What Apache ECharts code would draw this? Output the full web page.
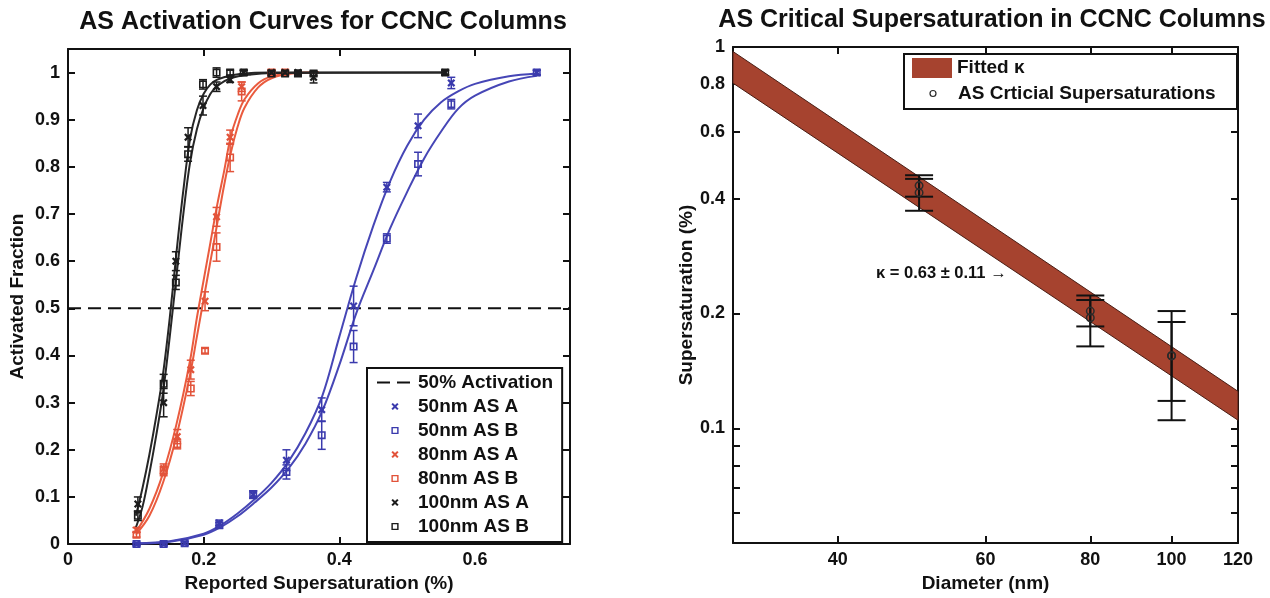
<!DOCTYPE html>
<html><head><meta charset="utf-8">
<script src="https://cdn.jsdelivr.net/npm/echarts@6/dist/echarts.min.js"></script>
<style>html,body{margin:0;padding:0;background:#fff}#c{width:1270px;height:598px}</style>
</head><body><div id="c"></div>
<script>
// ================= LEFT CHART DATA =================
const ssTicks = [0, 0.2, 0.4, 0.6];
const ssTopTicks = [0.2, 0.4, 0.6];
const afTicks = [0, 0.1, 0.2, 0.3, 0.4, 0.5, 0.6, 0.7, 0.8, 0.9, 1];
const ssRange = [0, 0.74];
const afRange = [0, 1.05];
const halfActivation = 0.5;

const x50 = [0.101, 0.141, 0.172, 0.223, 0.273, 0.322, 0.374, 0.421, 0.47, 0.516, 0.565, 0.691];
const af50A = [0.0, 0.0, 0.002, 0.045, 0.105, 0.178, 0.285, 0.505, 0.757, 0.887, 0.978, 1.0];
const er50A = [0.003, 0.003, 0.003, 0.006, 0.008, 0.022, 0.025, 0.042, 0.01, 0.025, 0.012, 0.005];
const af50B = [0.0, 0.0, 0.002, 0.04, 0.105, 0.153, 0.231, 0.419, 0.648, 0.806, 0.933, 1.0];
const er50B = [0.003, 0.003, 0.003, 0.006, 0.008, 0.015, 0.03, 0.034, 0.01, 0.025, 0.01, 0.005];

const x80 = [0.101, 0.141, 0.161, 0.181, 0.202, 0.219, 0.239, 0.256, 0.3, 0.32];
const af80A = [0.03, 0.16, 0.228, 0.37, 0.515, 0.694, 0.863, 0.97, 1.0, 1.0];
const er80A = [0.005, 0.01, 0.015, 0.02, 0.02, 0.02, 0.015, 0.01, 0.005, 0.005];
const af80B = [0.02, 0.155, 0.212, 0.33, 0.41, 0.63, 0.82, 0.96, 1.0, 1.0];
const er80B = [0.005, 0.01, 0.01, 0.015, 0.005, 0.03, 0.03, 0.02, 0.005, 0.005];

const x100 = [0.103, 0.141, 0.159, 0.177, 0.199, 0.219, 0.239, 0.259, 0.3, 0.32, 0.339, 0.362, 0.556];
const af100A = [0.085, 0.30, 0.60, 0.863, 0.93, 0.97, 0.985, 1.0, 1.0, 1.0, 1.0, 0.99, 1.0];
const er100A = [0.015, 0.03, 0.02, 0.02, 0.02, 0.01, 0.006, 0.005, 0.005, 0.005, 0.005, 0.012, 0.005];
const af100B = [0.06, 0.34, 0.555, 0.827, 0.975, 1.0, 1.0, 1.0, 0.998, 0.998, 0.998, 0.998, 1.0];
const er100B = [0.01, 0.02, 0.015, 0.015, 0.01, 0.01, 0.005, 0.005, 0.005, 0.005, 0.005, 0.005, 0.005];

// fitted curves
const fit50X = [0.10, 0.15, 0.20, 0.225, 0.25, 0.275, 0.30, 0.325, 0.35, 0.375, 0.40, 0.425, 0.45, 0.475, 0.50, 0.525, 0.55, 0.575, 0.60, 0.65, 0.691];
const fit50A = [0.002, 0.006, 0.022, 0.04, 0.065, 0.095, 0.13, 0.175, 0.235, 0.315, 0.44, 0.565, 0.675, 0.77, 0.845, 0.9, 0.937, 0.96, 0.976, 0.992, 0.998];
const fit50B = [0.001, 0.005, 0.02, 0.036, 0.059, 0.088, 0.12, 0.16, 0.213, 0.283, 0.38, 0.49, 0.58, 0.67, 0.747, 0.818, 0.875, 0.923, 0.951, 0.981, 0.993];

const fit80X = [0.10, 0.12, 0.14, 0.16, 0.18, 0.19, 0.20, 0.21, 0.22, 0.23, 0.24, 0.25, 0.26, 0.28, 0.30, 0.33, 0.37];
const fit80A = [0.025, 0.075, 0.15, 0.255, 0.39, 0.48, 0.56, 0.64, 0.72, 0.79, 0.865, 0.91, 0.943, 0.977, 0.992, 0.999, 1.0];
const fit80B = [0.02, 0.06, 0.13, 0.23, 0.36, 0.44, 0.52, 0.60, 0.68, 0.76, 0.83, 0.885, 0.925, 0.968, 0.988, 0.998, 1.0];

const fit100X = [0.10, 0.11, 0.12, 0.13, 0.14, 0.15, 0.16, 0.17, 0.18, 0.19, 0.20, 0.21, 0.22, 0.24, 0.27, 0.30, 0.556];
const fit100A = [0.06, 0.12, 0.19, 0.27, 0.36, 0.48, 0.62, 0.75, 0.86, 0.92, 0.955, 0.975, 0.985, 0.994, 0.999, 1.0, 1.0];
const fit100B = [0.035, 0.08, 0.15, 0.23, 0.32, 0.44, 0.57, 0.70, 0.81, 0.88, 0.925, 0.955, 0.972, 0.988, 0.996, 0.999, 1.0];

// ================= RIGHT CHART DATA =================
const diamRange = [30, 120];
const diamLabelTicks = [40, 60, 80, 100, 120];
const diamTopTicks = [40, 60, 80, 100];
const ssRangeR = [0.05, 1];
const ssLabelTicks = [0.1, 0.2, 0.4, 0.6, 0.8, 1];
const ssTickMarks = [0.06, 0.07, 0.08, 0.09, 0.1, 0.2, 0.4, 0.6, 0.8, 1];

const bandD = [30, 120];
const bandHi = [0.973, 0.125];
const bandLo = [0.804, 0.105];

const diam = [50, 80, 100];
const scA = [0.433, 0.203, 0.155];
const scALo = [0.405, 0.185, 0.118];
const scAHi = [0.461, 0.223, 0.19];
const scB = [0.415, 0.195, 0.155];
const scBLo = [0.372, 0.164, 0.105];
const scBHi = [0.451, 0.217, 0.203];

// ================= STYLE =================
const FONT = '"Liberation Sans", Arial, Helvetica, sans-serif';
const INK = '#111';
const BLUE = '#3a3aad', BLUE_L = '#4646b6';
const RED = '#e2533a', RED_L = '#ea5b3e';
const BLACK = '#1c1c1c', BLACK_L = '#262626';
const BAND = '#a6432f';
const CROSS = 'path://M0,2L2,0L5,3L8,0L10,2L7,5L10,8L8,10L5,7L2,10L0,8L3,5Z';
const SQUARE = 'path://M0,0H10V10H0Z M2,2V8H8V2Z';
const RING = 'path://M5,0A5,5,0,1,1,5,10A5,5,0,1,1,5,0Z M5,1.7A3.3,3.3,0,1,0,5,8.3A3.3,3.3,0,1,0,5,1.7Z';
const lg = v => Math.log10(v);

function pairs(xs, ys) { return xs.map((x, i) => [x, ys[i]]); }

function errSeries(xs, lo, hi, color, xi, yi, cap, lw) {
  return {
    type: 'custom', xAxisIndex: xi, yAxisIndex: yi, silent: true, z: 3,
    data: xs.map((x, i) => [x, lo[i], hi[i]]),
    encode: { x: 0, y: [1, 2] },
    renderItem(params, api) {
      const a = api.coord([api.value(0), api.value(1)]);
      const b = api.coord([api.value(0), api.value(2)]);
      const h = cap / 2;
      const st = { stroke: color, lineWidth: lw };
      return { type: 'group', children: [
        { type: 'line', shape: { x1: a[0], y1: a[1], x2: b[0], y2: b[1] }, style: st },
        { type: 'line', shape: { x1: a[0] - h, y1: a[1], x2: a[0] + h, y2: a[1] }, style: st },
        { type: 'line', shape: { x1: b[0] - h, y1: b[1], x2: b[0] + h, y2: b[1] }, style: st }
      ] };
    }
  };
}
function leftErr(xs, ys, es, color) {
  return errSeries(xs, ys.map((y, i) => y - es[i]), ys.map((y, i) => y + es[i]), color, 0, 0, 8, 1.5);
}
function markers(name, data, color, sym, size, xi, yi) {
  return {
    name, type: 'line', xAxisIndex: xi, yAxisIndex: yi, data,
    symbol: sym, symbolSize: size, showSymbol: true, showAllSymbol: true,
    lineStyle: { opacity: 0 }, itemStyle: { color }, z: 4, silent: true
  };
}
function curve(xs, ys, color) {
  return {
    type: 'line', xAxisIndex: 0, yAxisIndex: 0, data: pairs(xs, ys),
    smooth: 0.35, symbol: 'none', silent: true, z: 2,
    lineStyle: { color, width: 2 }
  };
}

const labelStyle = { color: INK, fontWeight: 'bold', fontSize: 18, fontFamily: FONT };
const nameStyle = { color: INK, fontWeight: 'bold', fontSize: 19, fontFamily: FONT };
const lineAx = { show: true, onZero: false, lineStyle: { color: INK, width: 2 } };
function tick(vals) { return { show: true, inside: true, length: 7, lineStyle: { color: INK, width: 2 }, customValues: vals }; }

const chart = echarts.init(document.getElementById('c'));
chart.setOption({
  animation: false,
  backgroundColor: '#fff',
  title: [
    { text: 'AS Activation Curves for CCNC Columns', left: 318, top: 5, textAlign: 'center',
      textStyle: { color: INK, fontWeight: 'bold', fontSize: 25, fontFamily: FONT } },
    { text: 'AS Critical Supersaturation in CCNC Columns', left: 987, top: 3, textAlign: 'center',
      textStyle: { color: INK, fontWeight: 'bold', fontSize: 25, fontFamily: FONT } }
  ],
  grid: [
    { left: 68, right: 700, top: 49, bottom: 50 },
    { left: 733, right: 32, top: 47, bottom: 51 }
  ],
  xAxis: [
    { gridIndex: 0, type: 'value', min: ssRange[0], max: ssRange[1], position: 'bottom',
      axisLine: lineAx, axisTick: tick(ssTicks), splitLine: { show: false },
      axisLabel: Object.assign({ customValues: ssTicks, margin: 7 }, labelStyle),
      name: 'Reported Supersaturation (%)', nameLocation: 'middle', nameGap: 26, nameTextStyle: nameStyle },
    { gridIndex: 0, type: 'value', min: ssRange[0], max: ssRange[1], position: 'top',
      axisLine: lineAx, axisTick: tick(ssTopTicks), splitLine: { show: false }, axisLabel: { show: false } },
    { gridIndex: 1, type: 'value', min: lg(diamRange[0]), max: lg(diamRange[1]), position: 'bottom',
      axisLine: lineAx, axisTick: tick(diamLabelTicks.map(lg)), splitLine: { show: false },
      axisLabel: Object.assign({ customValues: diamLabelTicks.map(lg), margin: 8,
        formatter: v => String(Math.round(Math.pow(10, v))) }, labelStyle),
      name: 'Diameter (nm)', nameLocation: 'middle', nameGap: 24, nameTextStyle: nameStyle },
    { gridIndex: 1, type: 'value', min: lg(diamRange[0]), max: lg(diamRange[1]), position: 'top',
      axisLine: lineAx, axisTick: tick(diamTopTicks.map(lg)), splitLine: { show: false }, axisLabel: { show: false } }
  ],
  yAxis: [
    { gridIndex: 0, type: 'value', min: afRange[0], max: afRange[1], position: 'left',
      axisLine: lineAx, axisTick: tick(afTicks), splitLine: { show: false },
      axisLabel: Object.assign({ customValues: afTicks, margin: 8 }, labelStyle),
      name: 'Activated Fraction', nameLocation: 'middle', nameGap: 41, nameTextStyle: nameStyle },
    { gridIndex: 0, type: 'value', min: afRange[0], max: afRange[1], position: 'right',
      axisLine: lineAx, axisTick: tick(afTicks), splitLine: { show: false }, axisLabel: { show: false } },
    { gridIndex: 1, type: 'value', min: lg(ssRangeR[0]), max: lg(ssRangeR[1]), position: 'left',
      axisLine: lineAx, axisTick: tick(ssTickMarks.map(lg)), splitLine: { show: false },
      axisLabel: Object.assign({ customValues: ssLabelTicks.map(lg), margin: 8,
        formatter: v => { const r = Math.pow(10, v); return r > 0.999 ? '1' : r.toFixed(1); } }, labelStyle),
      name: 'Supersaturation (%)', nameLocation: 'middle', nameGap: 37, nameTextStyle: nameStyle },
    { gridIndex: 1, type: 'value', min: lg(ssRangeR[0]), max: lg(ssRangeR[1]), position: 'right',
      axisLine: lineAx, axisTick: tick(ssTickMarks.map(lg)), splitLine: { show: false }, axisLabel: { show: false } }
  ],
  legend: [
    { orient: 'vertical', left: 367, top: 368, padding: [5, 9, 6, 9], itemGap: 5,
      itemWidth: 36, itemHeight: 9, itemTextGap: 10, selectedMode: false,
      borderColor: INK, borderWidth: 2, backgroundColor: '#fff', z: 10,
      textStyle: { color: INK, fontWeight: 'bold', fontSize: 19, fontFamily: FONT },
      data: [
        { name: '50% Activation', itemStyle: { opacity: 0 } },
        { name: '50nm AS A', lineStyle: { opacity: 0 } },
        { name: '50nm AS B', lineStyle: { opacity: 0 } },
        { name: '80nm AS A', lineStyle: { opacity: 0 } },
        { name: '80nm AS B', lineStyle: { opacity: 0 } },
        { name: '100nm AS A', lineStyle: { opacity: 0 } },
        { name: '100nm AS B', lineStyle: { opacity: 0 } }
      ] },
    { orient: 'vertical', left: 912, top: 58, padding: 0, itemWidth: 40, itemHeight: 20, itemTextGap: 6,
      selectedMode: false, z: 10, icon: 'rect',
      textStyle: { color: INK, fontWeight: 'bold', fontSize: 19, fontFamily: FONT },
      data: ['Fitted κ'] },
    { orient: 'vertical', left: 912, top: 84, padding: 0, itemWidth: 40, itemHeight: 9, itemTextGap: 6,
      selectedMode: false, z: 10,
      textStyle: { color: INK, fontWeight: 'bold', fontSize: 19, fontFamily: FONT },
      data: [{ name: 'AS Crticial Supersaturations', lineStyle: { opacity: 0 } }] }
  ],
  graphic: { elements: [
    { type: 'rect', left: 903, top: 53, shape: { width: 333, height: 55 }, z: 5,
      style: { fill: '#fff', stroke: INK, lineWidth: 2 } },
    { type: 'text', left: 876, top: 265, z: 6,
      style: { text: 'κ = 0.63 ± 0.11 →', fill: INK, font: 'bold 16.5px ' + FONT } }
  ] },
  series: [
    // 50% line
    { name: '50% Activation', type: 'line', xAxisIndex: 0, yAxisIndex: 0,
      data: [[ssRange[0], halfActivation], [ssRange[1], halfActivation]],
      symbol: 'none', silent: true, z: 2, itemStyle: { color: INK, opacity: 0 },
      lineStyle: { color: INK, width: 2, type: [13, 7] } },
    // fitted curves
    curve(fit50X, fit50A, BLUE_L), curve(fit50X, fit50B, BLUE_L),
    curve(fit80X, fit80A, RED_L), curve(fit80X, fit80B, RED_L),
    curve(fit100X, fit100A, BLACK_L), curve(fit100X, fit100B, BLACK_L),
    // error bars
    leftErr(x50, af50A, er50A, BLUE), leftErr(x50, af50B, er50B, BLUE),
    leftErr(x80, af80A, er80A, RED), leftErr(x80, af80B, er80B, RED),
    leftErr(x100, af100A, er100A, BLACK), leftErr(x100, af100B, er100B, BLACK),
    // markers
    markers('50nm AS A', pairs(x50, af50A), BLUE, CROSS, 8, 0, 0),
    markers('50nm AS B', pairs(x50, af50B), BLUE, SQUARE, 8, 0, 0),
    markers('80nm AS A', pairs(x80, af80A), RED, CROSS, 8, 0, 0),
    markers('80nm AS B', pairs(x80, af80B), RED, SQUARE, 8, 0, 0),
    markers('100nm AS A', pairs(x100, af100A), BLACK, CROSS, 8, 0, 0),
    markers('100nm AS B', pairs(x100, af100B), BLACK, SQUARE, 8, 0, 0),
    // right: fitted kappa band
    { type: 'custom', name: 'Fitted κ', xAxisIndex: 2, yAxisIndex: 2, z: 1, silent: true,
      itemStyle: { color: BAND },
      data: bandD.map((d, i) => [lg(d), lg(bandLo[i]), lg(bandHi[i])]),
      encode: { x: 0, y: [1, 2] },
      renderItem(params, api) {
        if (params.dataIndex !== 0) return;
        const pts = [];
        for (let i = 0; i < bandD.length; i++) pts.push(api.coord([lg(bandD[i]), lg(bandHi[i])]));
        for (let i = bandD.length - 1; i >= 0; i--) pts.push(api.coord([lg(bandD[i]), lg(bandLo[i])]));
        return { type: 'polygon', shape: { points: pts }, style: { fill: BAND, stroke: '#4a1f16', lineWidth: 1 } };
      } },
    errSeries(diam.map(lg), scALo.map(lg), scAHi.map(lg), INK, 2, 2, 28, 2),
    errSeries(diam.map(lg), scBLo.map(lg), scBHi.map(lg), INK, 2, 2, 28, 2),
    markers('AS Crticial Supersaturations', diam.map((d, i) => [lg(d), lg(scA[i])]), '#2a2a2a', RING, 9, 2, 2),
    markers('AS Crticial Supersaturations', diam.map((d, i) => [lg(d), lg(scB[i])]), '#2a2a2a', RING, 9, 2, 2)
  ]
});
</script>
</body></html>
